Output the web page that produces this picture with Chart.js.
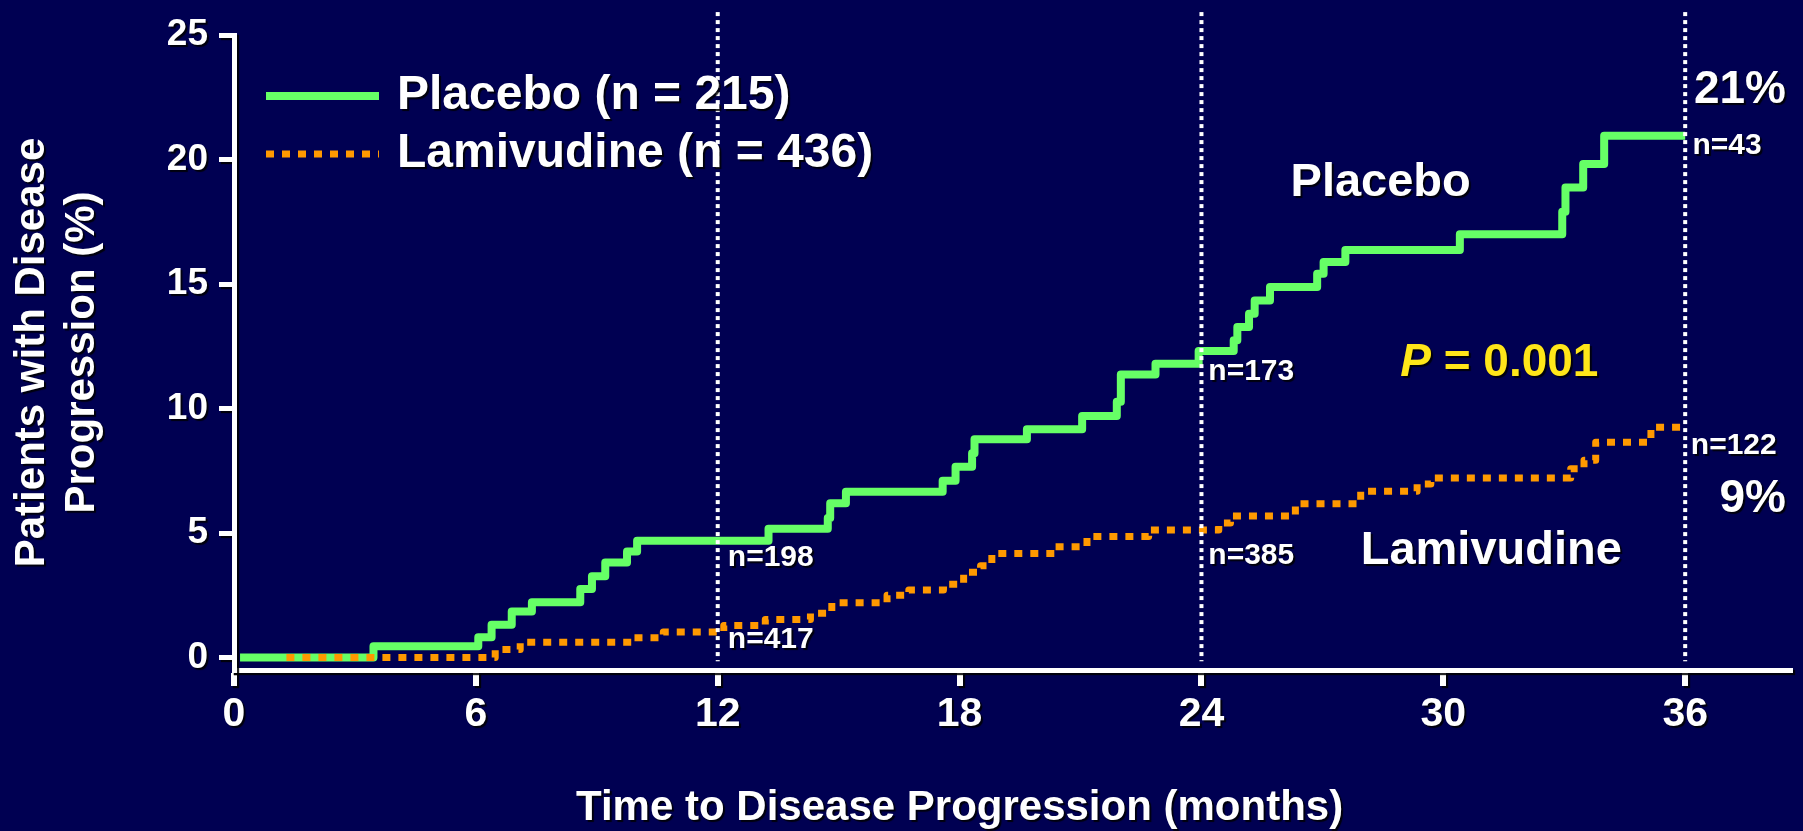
<!DOCTYPE html>
<html>
<head>
<meta charset="utf-8">
<title>Time to Disease Progression</title>
<script src="https://cdn.jsdelivr.net/npm/chart.js@4.4.1/dist/chart.umd.min.js"></script>
<style>
  html, body { margin: 0; padding: 0; background: #000052; }
  #chart { display: block; }
</style>
</head>
<body>
<canvas id="chart" width="1803" height="831"></canvas>
<script>
// Kaplan-Meier steps: month of each step and % progressed from there on
const placeboMonths = [0.15, 3.46, 6.06, 6.39, 6.89, 7.39, 8.59, 8.88, 9.21, 9.75, 10.0, 13.26, 14.73, 14.79, 15.18,
    17.58, 17.9, 18.31, 18.37, 19.67, 21.04, 21.9, 22.0, 22.86, 23.93, 24.8, 24.89, 25.18, 25.32, 25.7,
    26.87, 27.03, 27.57, 30.41, 32.95, 33.03, 33.47, 33.99, 36];
const placeboPct = [0, 0.45, 0.82, 1.32, 1.85, 2.22, 2.75, 3.26, 3.82, 4.26, 4.69, 5.17, 5.6, 6.2, 6.66,
    7.1, 7.66, 8.2, 8.77, 9.17, 9.7, 10.27, 11.37, 11.8, 12.31, 12.74, 13.27, 13.81, 14.34, 14.88,
    15.41, 15.88, 16.37, 17.0, 17.9, 18.88, 19.82, 20.95, 20.95];

const lamivudineMonths = [1.3, 6.48, 7.1, 9.87, 10.65, 12.15, 13.18, 14.3, 14.83, 16.2, 16.74, 17.6, 18.1, 18.52,
    18.8, 20.38, 21.16, 22.69, 24.43, 24.72, 26.33, 27.95, 29.35, 29.69, 33.16, 33.49, 33.78, 35.15, 36];
const lamivudinePct = [0, 0.32, 0.61, 0.8, 1.03, 1.29, 1.53, 1.78, 2.2, 2.5, 2.71, 2.94, 3.43, 3.69,
    4.18, 4.45, 4.86, 5.12, 5.4, 5.68, 6.18, 6.68, 6.97, 7.21, 7.58, 7.92, 8.65, 9.25, 9.25];

const seriesLabels = ['Placebo (n = 215)', 'Lamivudine (n = 436)'];
const markerMonths = [12, 24, 36];
const atRiskPlacebo = ['n=198', 'n=173', 'n=43'];
const atRiskLamivudine = ['n=417', 'n=385', 'n=122'];
const finalPct = ['21%', '9%'];
const pValue = '0.001';

const navy = '#000052';
const green = '#66ff66';
const orange = '#ff9900';
const fontFamily = '"Liberation Sans", Arial, Helvetica, sans-serif';

function toPoints(xs, ys) {
    return xs.map((x, i) => ({ x: x, y: ys[i] }));
}

// dotted white verticals at 12/24/36 months (they run a bit above the plot, so no clipping)
const markerSets = markerMonths.map(m => ({
    label: '',
    data: [{ x: m, y: 25.92 }, { x: m, y: -0.15 }],
    borderColor: '#ffffff',
    borderWidth: 4,
    borderDash: [4, 4],
    clip: false,
    order: -1,
    isMarker: true
}));

function setShadow(ctx) {
    ctx.shadowColor = 'rgba(0, 0, 0, 0.85)';
    ctx.shadowOffsetX = 2;
    ctx.shadowOffsetY = 2;
    ctx.shadowBlur = 1;
}

function font(size, style) {
    return (style || '') + ' bold ' + size + 'px ' + fontFamily;
}

const slideDecor = {
    id: 'slideDecor',
    beforeDraw(chart) {
        const ctx = chart.ctx;
        ctx.save();
        ctx.fillStyle = navy;
        ctx.fillRect(0, 0, chart.width, chart.height);
        ctx.restore();
    },
    afterDatasetsDraw(chart) {
        // axes, tick labels and y title come after this (z: 1), give them the drop shadow
        chart.ctx.save();
        setShadow(chart.ctx);
    },
    afterDraw(chart) {
        const ctx = chart.ctx;
        ctx.restore();
        const xs = chart.scales.x;
        const ys = chart.scales.y;
        const area = chart.chartArea;

        ctx.save();

        // legend, top left inside the plot
        chart.data.datasets.filter(d => !d.isMarker).forEach((d, i) => {
            const cy = area.top + 61 + i * 58;
            ctx.save();
            ctx.strokeStyle = d.borderColor;
            ctx.lineWidth = d.borderWidth;
            ctx.setLineDash(d.borderDash || []);
            ctx.beginPath();
            ctx.moveTo(area.left + 32, cy);
            ctx.lineTo(area.left + 145, cy);
            ctx.stroke();
            ctx.restore();

            setShadow(ctx);
            ctx.fillStyle = '#ffffff';
            ctx.font = font(48);
            ctx.textAlign = 'left';
            ctx.textBaseline = 'middle';
            ctx.fillText(d.label, area.left + 163, cy);
            ctx.shadowColor = 'transparent';
        });

        setShadow(ctx);
        ctx.fillStyle = '#ffffff';
        ctx.textBaseline = 'alphabetic';

        function note(text, x, y, size, align) {
            ctx.font = font(size);
            ctx.textAlign = align || 'left';
            ctx.fillText(text, xs.getPixelForValue(x), ys.getPixelForValue(y));
        }

        // numbers at risk
        const placeboAt = [[12.25, 3.69], [24.17, 11.14], [36.18, 20.23]];
        const lamAt = [[12.25, 0.38], [24.17, 3.77], [36.14, 8.17]];
        atRiskPlacebo.forEach((t, i) => note(t, placeboAt[i][0], placeboAt[i][1], 30));
        atRiskLamivudine.forEach((t, i) => note(t, lamAt[i][0], lamAt[i][1], 30));

        note(finalPct[0], 38.5, 22.28, 46, 'right');
        note(finalPct[1], 38.5, 5.85, 46, 'right');
        note('Placebo', 26.21, 18.55, 47);
        note('Lamivudine', 27.95, 3.77, 47);

        // P = 0.001 in yellow, P in italics
        ctx.fillStyle = '#ffe619';
        ctx.textAlign = 'left';
        let px = xs.getPixelForValue(28.93);
        const py = ys.getPixelForValue(11.3);
        ctx.font = font(46, 'italic');
        ctx.fillText('P', px, py);
        px += ctx.measureText('P').width;
        ctx.font = font(46);
        ctx.fillText(' = ' + pValue, px, py);

        // x axis title, centred on the 0-36 month span
        ctx.fillStyle = '#ffffff';
        ctx.textAlign = 'center';
        ctx.font = font(42);
        ctx.fillText('Time to Disease Progression (months)', xs.getPixelForValue(18), xs.bottom - 11);

        ctx.restore();
    }
};

const config = {
    type: 'line',
    data: {
        datasets: [
            {
                label: seriesLabels[0],
                data: toPoints(placeboMonths, placeboPct),
                borderColor: green,
                borderWidth: 8,
                stepped: true,
                order: 1
            },
            {
                label: seriesLabels[1],
                data: toPoints(lamivudineMonths, lamivudinePct),
                borderColor: orange,
                borderWidth: 7,
                borderDash: [8, 8],
                stepped: true,
                order: 0
            }
        ].concat(markerSets)
    },
    options: {
        responsive: false,
        animation: false,
        events: [],
        layout: { padding: { top: 35, right: 13, left: 0, bottom: 0 } },
        elements: {
            point: { radius: 0 },
            line: { tension: 0, borderJoinStyle: 'round', borderCapStyle: 'butt' }
        },
        plugins: {
            legend: { display: false },
            tooltip: { enabled: false }
        },
        scales: {
            x: {
                type: 'linear',
                min: 0,
                max: 38.6,
                afterFit: s => { s.height = 161; },
                ticks: {
                    stepSize: 6,
                    includeBounds: false,
                    color: '#ffffff',
                    font: { family: fontFamily, size: 41, weight: 'bold' },
                    padding: 4,
                    maxRotation: 0,
                    z: 1
                },
                grid: {
                    drawOnChartArea: false,
                    drawTicks: true,
                    tickLength: 16,
                    color: '#ffffff',
                    lineWidth: 6,
                    z: 1
                },
                border: { color: '#ffffff', width: 5, z: 1 }
            },
            y: {
                type: 'linear',
                min: -0.5,
                max: 25,
                afterFit: s => { s.width = 234; },
                ticks: {
                    stepSize: 5,
                    includeBounds: false,
                    color: '#ffffff',
                    font: { family: fontFamily, size: 37, weight: 'bold' },
                    padding: 11,
                    z: 1
                },
                grid: {
                    drawOnChartArea: false,
                    drawTicks: true,
                    tickLength: 15,
                    color: '#ffffff',
                    lineWidth: 5,
                    z: 1
                },
                border: { color: '#ffffff', width: 5, z: 1 },
                title: {
                    display: true,
                    text: ['Patients with Disease', 'Progression (%)'],
                    color: '#ffffff',
                    font: { family: fontFamily, size: 42, weight: 'bold', lineHeight: 1.2 },
                    padding: { top: 7, bottom: 0 }
                }
            }
        }
    },
    plugins: [slideDecor]
};

const kmChart = new Chart(document.getElementById('chart'), config);
</script>
</body>
</html>
